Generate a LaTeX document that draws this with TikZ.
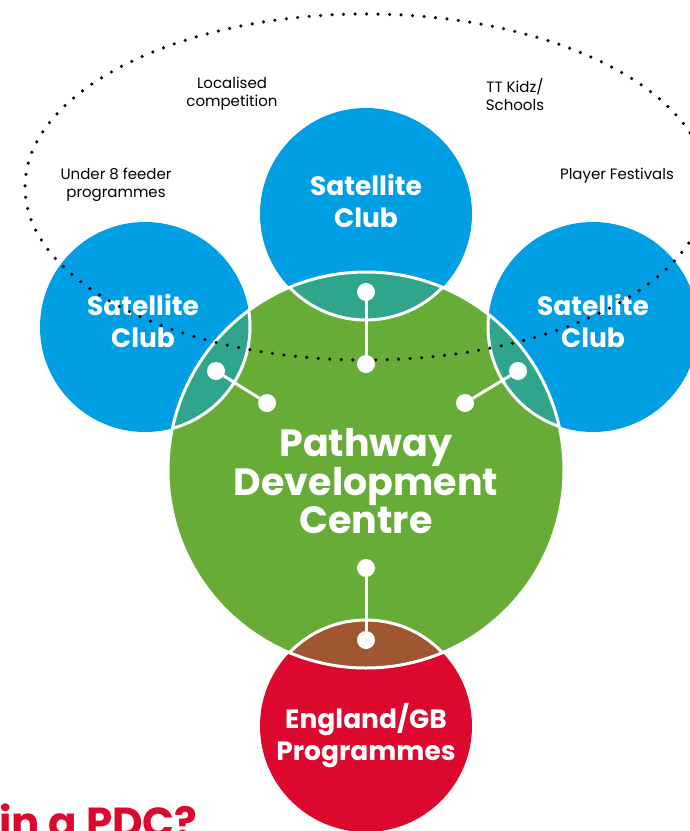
\documentclass[tikz,border=0pt]{standalone}
\usepackage{fontspec}
\setmainfont{Poppins}

\definecolor{clubblue}{RGB}{0,159,227}
\definecolor{pdcgreen}{RGB}{102,172,54}
\definecolor{lensteal}{RGB}{47,165,140}
\definecolor{lensbrown}{RGB}{160,86,48}
\definecolor{gbred}{RGB}{220,8,46}

\tikzset{
	dotline/.style={line width=3.5pt, line cap=round, dash pattern=on 0pt off 11.5pt},
	joint/.style={circle, fill=white, minimum size=18pt, inner sep=0pt},
	link/.style={white, line width=3pt},
	clubtext/.style={text=white, font=\bfseries\fontsize{26.5}{32}\selectfont, align=center},
	smalltext/.style={font=\fontsize{15}{18}\selectfont, align=center},
}

\begin{document}
\begin{tikzpicture}[x=1pt,y=1pt]
	\useasboundingbox (0,0) rectangle (689,-831);
	% circles
	\fill[clubblue] (366,-214) circle [radius=106];
	\fill[clubblue] (145,-327) circle [radius=105];
	\fill[clubblue] (593,-327) circle [radius=105];
	\fill[gbred] (366,-726) circle [radius=106];
	\fill[pdcgreen] (366,-470) circle [radius=198];
	% overlaps
	\begin{scope}
		\clip (366,-470) circle [radius=198];
		\fill[lensteal] (366,-214) circle [radius=106];
		\fill[lensteal] (145,-327) circle [radius=105];
		\fill[lensteal] (593,-327) circle [radius=105];
		\fill[lensbrown] (366,-726) circle [radius=106];
		\draw[link] (366,-214) circle [radius=106];
		\draw[link] (145,-327) circle [radius=105];
		\draw[link] (593,-327) circle [radius=105];
		\draw[link] (366,-726) circle [radius=106];
	\end{scope}
	\draw[link] (366,-470) circle [radius=198];
	% texts
	\node[clubtext] (topclub) at (366,-201) {Satellite\\Club};
	\node[clubtext] (leftclub) at (143,-321) {Satellite\\Club};
	\node[clubtext] (rightclub) at (593,-321) {Satellite\\Club};
	\node[clubtext, font=\bfseries\fontsize{38}{37.5}\selectfont] (pdc) at (366,-481) {Pathway\\Development\\Centre};
	\node[clubtext] (gb) at (366,-736) {England/GB\\Programmes};
	\node[smalltext] (localised) at (232,-94) {Localised\\competition};
	\node[smalltext] (kidz) at (515,-94) {TT Kidz/\\Schools};
	\node[smalltext] (under8) at (116,-185) {Under 8 feeder\\programmes};
	\node[smalltext] (festivals) at (617,-176) {Player Festivals};
	\node[anchor=base west, inner sep=0pt, text=gbred, font=\bfseries\fontsize{42}{48}\selectfont] (question) at (-1,-837) {in a PDC?};
	% outer ring
	\draw[dotline] (366,-187) ellipse [x radius=341, y radius=173];
	% links
	\node[joint] (t1) at (366,-292) {};
	\node[joint] (t2) at (366,-364) {};
	\node[joint] (l1) at (216,-371) {};
	\node[joint] (l2) at (267,-403) {};
	\node[joint] (r1) at (518,-371) {};
	\node[joint] (r2) at (465,-403) {};
	\node[joint] (b1) at (366,-568) {};
	\node[joint] (b2) at (366,-640) {};
	\draw[link] (t1) -- (t2);
	\draw[link] (l1) -- (l2);
	\draw[link] (r1) -- (r2);
	\draw[link] (b1) -- (b2);
\end{tikzpicture}
\end{document}
